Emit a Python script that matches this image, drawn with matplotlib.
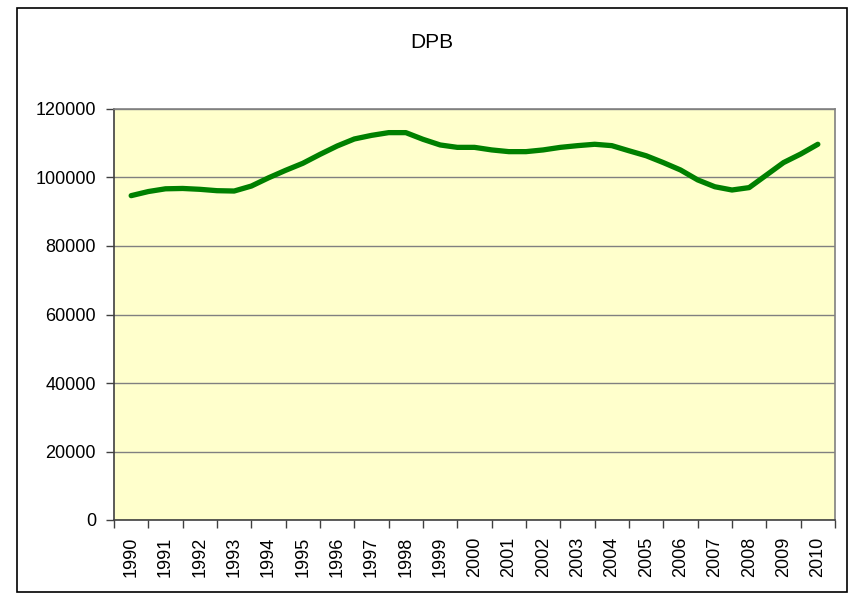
import numpy as np
import matplotlib
matplotlib.use("Agg")
import matplotlib.pyplot as plt
from matplotlib.patches import Rectangle

plt.rcParams['font.family'] = ['Liberation Sans', 'DejaVu Sans']

years = [str(y) for y in range(1990, 2011)]
# half-year readings of the DPB series
t = [i * 0.5 for i in range(41)]
dpb = [94700, 95900, 96700, 96800, 96550, 96150, 96050, 97500, 99900, 102100,
       104150, 106750, 109200, 111250, 112300, 113100, 113100, 111150, 109500, 108800,
       108800, 108050, 107550, 107550, 108050, 108800, 109300, 109700, 109300, 107800,
       106350, 104350, 102200, 99300, 97300, 96350, 97050, 100700, 104350, 106850,
       109700]

fig = plt.figure(figsize=(8.5, 5.93), dpi=100)
fig.patches.append(Rectangle((17 / 850, 1 / 593), 830 / 850, 584 / 593,
                             transform=fig.transFigure, fill=False,
                             edgecolor='black', linewidth=1.2))

ax = fig.add_axes([114 / 850, 73 / 593, 721 / 850, 411 / 593])
ax.set_facecolor('#FFFFCC')
ax.plot(t, dpb, color='#008000', linewidth=3.8, solid_capstyle='round', zorder=3)

ax.set_xlim(-0.5, 20.5)
ax.set_ylim(0, 120000)
ax.set_yticks(range(0, 120001, 20000))
ax.yaxis.grid(True, color='#808080', linewidth=1)
ax.set_axisbelow(True)

ax.set_xticks(np.arange(-0.5, 21, 1))
ax.set_xticklabels([])
ax.set_xticks(range(len(years)), minor=True)
ax.set_xticklabels(years, minor=True, rotation=90, fontsize=13)
ax.tick_params(axis='x', which='major', length=6, width=1, color='#404040')
ax.tick_params(axis='x', which='minor', length=0, pad=12)
ax.tick_params(axis='y', length=6, width=1, color='#404040', pad=7, labelsize=13)

for s in ['top', 'right']:
    ax.spines[s].set_color('#808080')
for s in ['left', 'bottom']:
    ax.spines[s].set_color('#404040')
for s in ax.spines.values():
    s.set_linewidth(1.2)

fig.text(432 / 850, 1 - 42 / 593, 'DPB', ha='center', va='center', fontsize=15)

fig.savefig('out.png', dpi=100)
